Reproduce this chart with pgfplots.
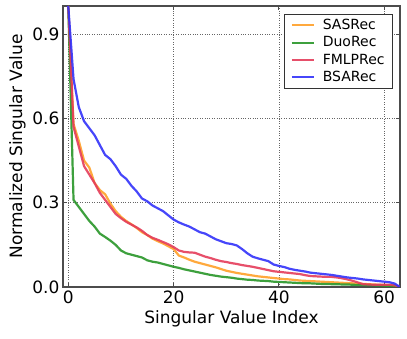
\documentclass[border=0pt]{standalone}
\usepackage{fontspec}
\setmainfont{DejaVu Sans}
\usepackage{pgfplots}
\pgfplotsset{compat=1.18}

\definecolor{cSAS}{RGB}{255,160,40}
\definecolor{cDuo}{RGB}{40,150,40}
\definecolor{cFMLP}{RGB}{228,60,90}
\definecolor{cBSA}{RGB}{50,50,250}

\pgfplotstableread{
idx bsa fmlp sas duo
0 1.000 1.000 1.000 1.000
1 0.740 0.570 0.580 0.310
2 0.640 0.500 0.520 0.285
3 0.590 0.430 0.450 0.260
4 0.565 0.400 0.425 0.235
5 0.540 0.370 0.370 0.215
6 0.505 0.335 0.345 0.190
7 0.470 0.310 0.330 0.178
8 0.455 0.285 0.297 0.165
9 0.430 0.260 0.270 0.150
10 0.400 0.245 0.250 0.130
11 0.385 0.232 0.235 0.120
12 0.360 0.222 0.223 0.115
13 0.340 0.212 0.210 0.110
14 0.315 0.200 0.195 0.105
15 0.305 0.185 0.185 0.095
16 0.290 0.175 0.172 0.090
17 0.280 0.168 0.163 0.087
18 0.270 0.160 0.155 0.082
19 0.255 0.152 0.145 0.077
20 0.240 0.142 0.135 0.072
21 0.230 0.130 0.112 0.068
22 0.222 0.125 0.105 0.063
23 0.215 0.123 0.097 0.059
24 0.205 0.122 0.090 0.055
25 0.195 0.115 0.085 0.051
26 0.190 0.108 0.080 0.047
27 0.180 0.103 0.075 0.043
28 0.170 0.097 0.070 0.040
29 0.163 0.092 0.064 0.037
30 0.156 0.089 0.058 0.035
31 0.153 0.085 0.054 0.033
32 0.148 0.082 0.050 0.030
33 0.135 0.078 0.047 0.028
34 0.120 0.075 0.044 0.026
35 0.108 0.072 0.041 0.025
36 0.102 0.068 0.038 0.023
37 0.097 0.064 0.036 0.022
38 0.092 0.060 0.034 0.021
39 0.080 0.056 0.032 0.019
40 0.075 0.054 0.030 0.018
41 0.071 0.052 0.028 0.017
42 0.065 0.050 0.027 0.016
43 0.061 0.048 0.025 0.015
44 0.058 0.046 0.023 0.014
45 0.055 0.042 0.022 0.013
46 0.051 0.039 0.021 0.013
47 0.049 0.038 0.020 0.012
48 0.047 0.037 0.019 0.011
49 0.045 0.036 0.018 0.011
50 0.043 0.036 0.017 0.010
51 0.040 0.034 0.016 0.010
52 0.037 0.031 0.015 0.009
53 0.034 0.027 0.014 0.009
54 0.032 0.022 0.013 0.008
55 0.030 0.016 0.012 0.007
56 0.027 0.010 0.011 0.007
57 0.025 0.009 0.010 0.006
58 0.023 0.008 0.009 0.006
59 0.021 0.008 0.008 0.005
60 0.019 0.008 0.007 0.005
61 0.017 0.008 0.006 0.004
62 0.012 0.006 0.004 0.003
63 0.000 0.000 0.000 0.000
}\sv

\begin{document}
\begin{tikzpicture}
\path[use as bounding box] (-63pt,-52pt) rectangle (344pt,287pt);
\begin{axis}[
  scale only axis, width=337pt, height=281pt,
  xmin=-1, xmax=63, ymin=0, ymax=1.0,
  xtick={0,20,40,60}, ytick={0,0.3,0.6,0.9},
  yticklabel style={/pgf/number format/fixed,/pgf/number format/fixed zerofill,/pgf/number format/precision=1},
  /pgf/number format/assume math mode=true,
  tick label style={font=\fontsize{17}{20}\selectfont},
  label style={font=\fontsize{17}{20}\selectfont},
  xlabel={Singular Value Index},
  ylabel={Normalized Singular Value},
  tick align=inside, tick pos=both, major tick length=4pt,
  tick style={black!70, line width=0.8pt},
  axis line style={black!70, line width=1.2pt},
  grid=major, grid style={black!60, dotted, line width=0.6pt},
  legend cell align=left,
  legend style={at={(1,1)}, anchor=north east, xshift=-7pt, yshift=-8pt,
    font=\fontsize{14}{16}\selectfont, draw=black!80, line width=0.8pt,
    inner xsep=6pt, inner ysep=3pt, row sep=1.5pt},
  legend image code/.code={\draw[#1, line width=2pt] (0pt,0pt) -- (22pt,0pt);},
]
\addplot[cSAS, line width=2.2pt, opacity=0.9] table[x=idx, y=sas] {\sv};
\addlegendentry{\hspace{6pt}SASRec}
\addplot[cDuo, line width=2.2pt, opacity=0.9] table[x=idx, y=duo] {\sv};
\addlegendentry{\hspace{6pt}DuoRec}
\addplot[cFMLP, line width=2.2pt, opacity=0.9] table[x=idx, y=fmlp] {\sv};
\addlegendentry{\hspace{6pt}FMLPRec}
\addplot[cBSA, line width=2.2pt, opacity=0.9] table[x=idx, y=bsa] {\sv};
\addlegendentry{\hspace{6pt}BSARec}
\end{axis}
\end{tikzpicture}
\end{document}
